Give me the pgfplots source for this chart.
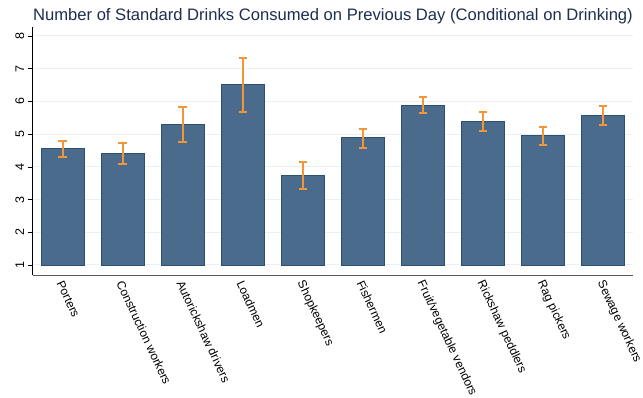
\documentclass[border=0pt]{standalone}
\usepackage{fontspec}
\setmainfont{Liberation Sans}
\usepackage{pgfplots}
\usepackage{pgfplotstable}
\pgfplotsset{compat=1.18}

\definecolor{barfill}{RGB}{74,107,140}
\definecolor{baredge}{RGB}{44,80,116}
\definecolor{ciorange}{RGB}{243,150,58}
\definecolor{titlecol}{RGB}{30,45,80}
\definecolor{gridcol}{RGB}{234,240,243}

% mean drinks with 95% confidence bounds, by occupation
\pgfplotstableread{
idx mean  lo    hi
0   4.55  4.30  4.80
1   4.41  4.10  4.72
2   5.30  4.77  5.82
3   6.51  5.69  7.33
4   3.74  3.32  4.16
5   4.89  4.59  5.17
6   5.89  5.65  6.14
7   5.40  5.10  5.69
8   4.95  4.67  5.23
9   5.58  5.28  5.87
}\drinks

\begin{document}
\begin{tikzpicture}[x=1pt,y=1pt]
\useasboundingbox (0,0) rectangle (643,398);
\begin{axis}[
  at={(32.7pt,123pt)}, anchor=south west,
  scale only axis,
  width=600.3pt, height=248pt,
  xmin=-0.5, xmax=9.5,
  % bars are drawn from a base of 1: the vertical axis is shifted by one unit
  ymin=-0.306, ymax=7.275,
  ytick={0,...,7},
  yticklabels={1,2,3,4,5,6,7,8},
  xtick=data,
  xticklabels={Porters,Construction workers,Autorickshaw drivers,Loadmen,Shopkeepers,Fishermen,Fruit/vegetable vendors,Rickshaw peddlers,Rag pickers,Sewage workers},
  axis x line*=bottom,
  axis y line*=left,
  x axis line style={draw=black!65, line width=0.9pt},
  y axis line style={draw=black, line width=0.8pt},
  ymajorgrids,
  major grid style={draw=gridcol, line width=1pt},
  xtick style={draw=none},
  ytick style={draw=black, line width=0.6pt},
  tick align=outside,
  major tick length=5pt,
  /pgf/number format/assume math mode=true,
  yticklabel style={rotate=90, anchor=south, font=\fontsize{12.5}{14}\selectfont},
  xticklabel style={rotate=-65, anchor=west, font=\fontsize{12}{14}\selectfont, inner sep=1pt, yshift=-3pt, xshift=-1pt},
  clip=false,
]
\addplot[
  ybar, bar width=42.7pt, bar shift=0pt,
  fill=barfill, draw=baredge, line width=0.8pt,
  error bars/.cd,
    y dir=both, y explicit,
    error bar style={draw=ciorange, line width=2pt},
    error mark options={draw=ciorange, line width=2pt, mark size=4.3pt, rotate=90},
] table[
  x=idx,
  y expr=\thisrow{mean}-1,
  y error plus expr=\thisrow{hi}-\thisrow{mean},
  y error minus expr=\thisrow{mean}-\thisrow{lo},
] {\drinks};
\end{axis}
\node[anchor=base, text=titlecol, font=\fontsize{16.6}{19}\selectfont] at (333,377) {Number of Standard Drinks Consumed on Previous Day (Conditional on Drinking)};
\end{tikzpicture}
\end{document}
